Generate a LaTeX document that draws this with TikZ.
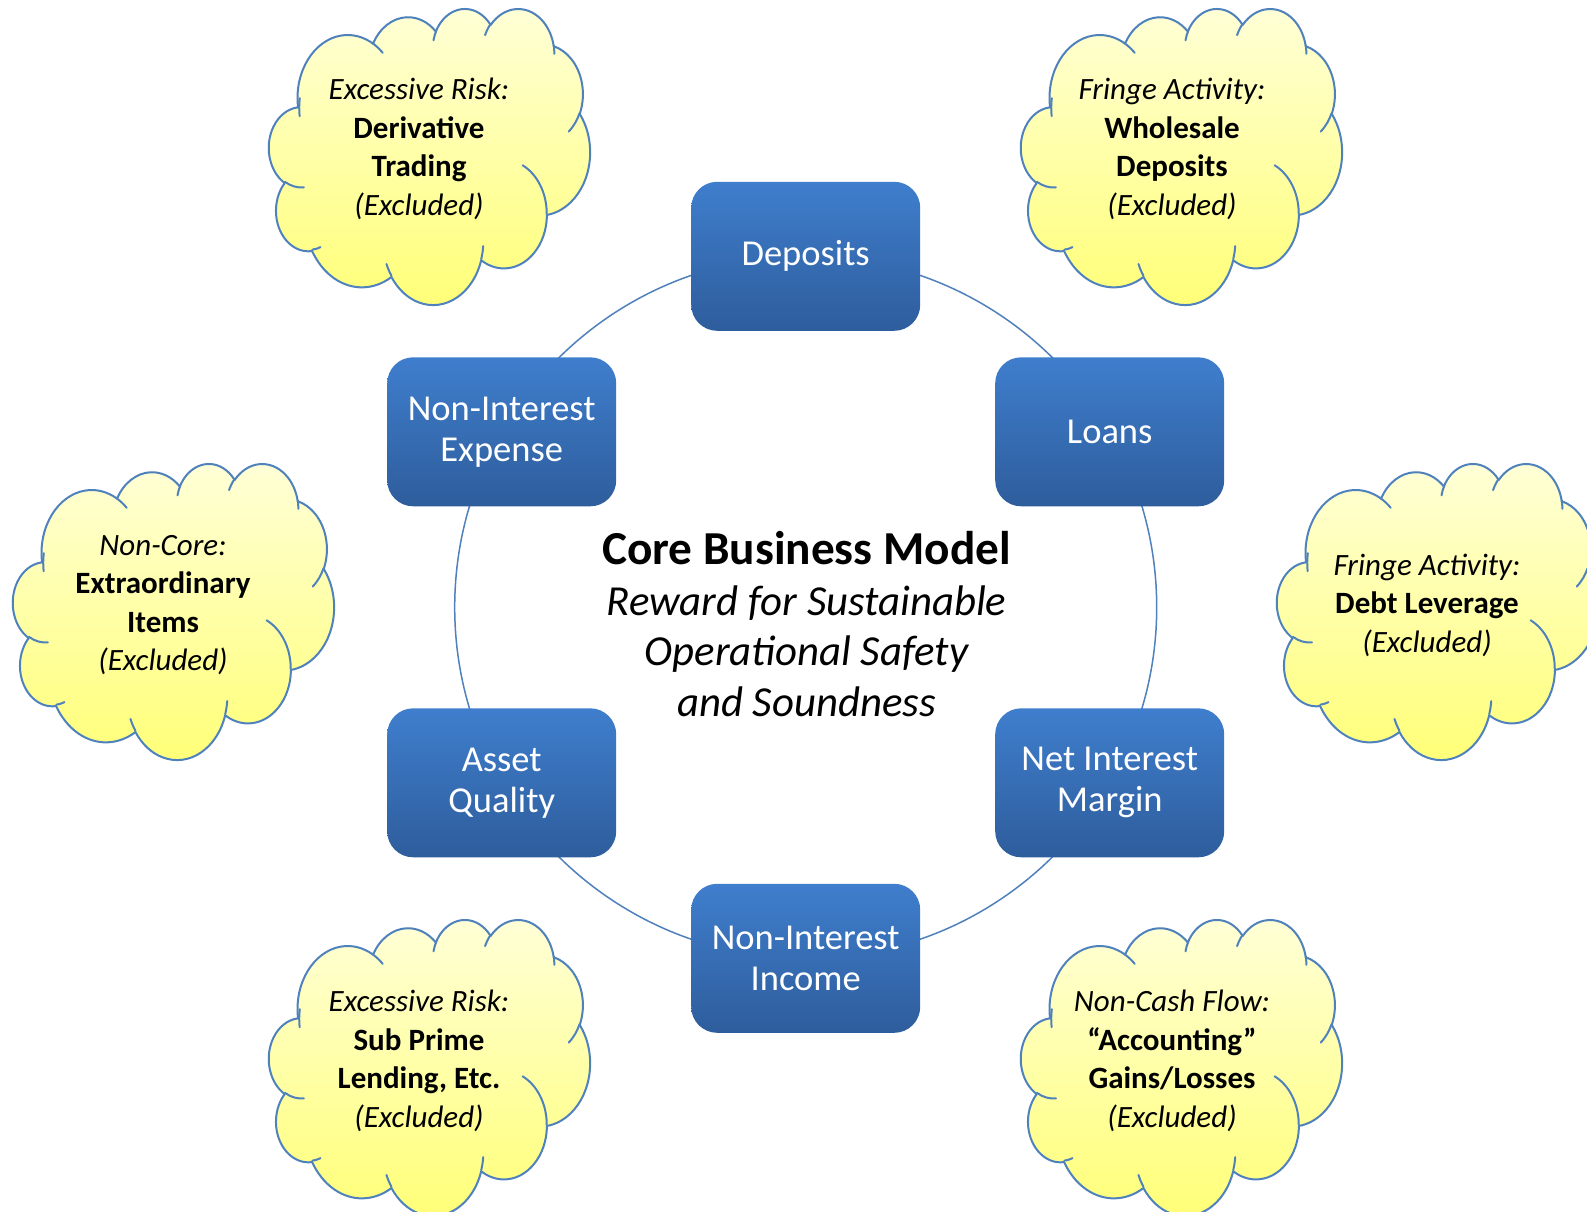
\documentclass[tikz,border=0pt]{standalone}
\usepackage{fontspec}
\setmainfont{Carlito}
\definecolor{boxtop}{RGB}{63,126,205}
\definecolor{boxbot}{RGB}{46,93,156}
\definecolor{ringblue}{RGB}{79,129,189}
\definecolor{cloudtop}{RGB}{255,255,216}
\definecolor{cloudbot}{RGB}{255,255,118}
% elliptical arc in the Office "arcTo" convention (radii, start angle, sweep),
% drawn in a y-up local frame
\newcommand\oarc[4]{%
  \pgfextra{%
    \pgfmathparse{atan2(-(#1)*sin(#3),(#2)*cos(#3))}\xdef\oA{\pgfmathresult}%
    \pgfmathparse{atan2(-(#1)*sin(#3+#4),(#2)*cos(#3+#4))}\xdef\oB{\pgfmathresult}%
    \pgfmathparse{mod(\oB-\oA+720,360)-360}\xdef\oD{\pgfmathresult}%
  }%
  arc[start angle=\oA, delta angle=\oD, x radius=#1, y radius=#2]}
% cloud: #1 = left, #2 = top (picture coordinates, y downward)
\newcommand\officecloud[2]{%
  \begin{scope}[shift={(#1,-#2-296)}, xscale=321/432, yscale=296/432]
    \draw[cloudline, top color=cloudtop, bottom color=cloudbot]
      (39.00,288.30)
      \oarc{67.53}{91.90}{-190.4875}{123.7805}
      \oarc{53.33}{72.67}{-144.1024}{89.9452}
      \oarc{43.65}{59.45}{-145.8079}{99.7230}
      \oarc{48.57}{65.95}{-130.9861}{117.2417}
      \oarc{53.33}{72.73}{-78.7089}{109.0269}
      \oarc{67.75}{92.20}{-46.2673}{130.2690}
      \oarc{57.85}{78.67}{0.6250}{114.0333}
      \oarc{67.52}{92.15}{22.4516}{115.1726}
      \oarc{77.20}{105.43}{66.2426}{75.7110}
      \oarc{43.60}{59.18}{-274.9421}{146.7356}
      \oarc{43.45}{59.45}{-246.8285}{152.5189}
      -- cycle;
    \draw[cloudline] (46.93,170.23) \oarc{43.45}{59.45}{86.7420}{26.4295};
    \draw[cloudline] (69.28,83.01) \oarc{43.60}{59.18}{73.6105}{11.4475};
    \draw[cloudline] (164.78,41.10) \oarc{67.52}{92.15}{137.6242}{14.0811};
    \draw[cloudline] (288.27,84.49) \oarc{67.52}{92.15}{6.4533}{15.9984};
    \draw[cloudline] (341.29,202.46) \oarc{57.85}{78.67}{-70.2924}{70.9174};
    \draw[cloudline] (417.98,278.46) \oarc{53.33}{72.73}{30.3180}{27.7515};
    \draw[cloudline] (383.24,377.74) \oarc{48.57}{65.95}{-13.7443}{14.8589};
    \draw[cloudline] (290.78,392.48) \oarc{48.57}{65.95}{-149.1815}{18.1954};
    \draw[cloudline] (221.41,384.80) \oarc{43.65}{59.45}{-163.4943}{17.6864};
    \draw[cloudline] (140.00,380.08) \oarc{67.53}{91.90}{-66.7070}{12.3194};
    \draw[cloudline] (41.27,274.11) \oarc{67.53}{91.90}{-190.4875}{22.2326};
  \end{scope}}
\begin{document}
\begin{tikzpicture}[x=1pt,y=1pt,
  corebox/.style={rectangle, rounded corners=26pt, minimum width=229pt, minimum height=149pt,
    top color=boxtop, bottom color=boxbot, draw=none, text=white,
    font=\fontsize{36.5}{41}\selectfont, align=center, inner sep=0pt},
  cloudline/.style={draw=ringblue, line width=2pt, line join=round, line cap=round},
  cloudtext/.style={align=center, font=\fontsize{31}{38.5}\selectfont, inner sep=0pt},
  ring/.style={draw=ringblue, line width=1.5pt}]
\fill[white] (0,0) rectangle (1587,-1212);
\useasboundingbox (0,0) rectangle (1587,-1212);
\clip (0,0) rectangle (1587,-1212);

% ring
\coordinate (ctr) at (805.7,-607.3);
\draw[ring] (ctr) circle (351pt);

% boxes
\node[corebox] (dep) at (805.7,-256.3) {Deposits};
\node[corebox] (loans) at (1109.7,-431.8) {Loans};
\node[corebox] (nim) at (1109.7,-782.8) {Net Interest\\Margin};
\node[corebox] (nii) at (805.7,-958.3) {Non-Interest\\Income};
\node[corebox] (aq) at (501.7,-782.8) {Asset\\Quality};
\node[corebox] (nie) at (501.7,-431.8) {Non-Interest\\Expense};

% center text
\node[align=center, inner sep=0pt, font=\fontsize{42.8}{50.5}\selectfont\itshape] (core) at (806.5,-624)
  {{\fontsize{47.3}{53}\selectfont\upshape\bfseries Core Business Model}\\
   Reward for Sustainable\\ Operational Safety\\ and Soundness};

% clouds
\officecloud{269}{8}
\node[cloudtext] (t1) at (419,-149) {\textit{Excessive Risk:}\\\textbf{Derivative}\\\textbf{Trading}\\\textit{(Excluded)}};

\officecloud{1021}{8}
\node[cloudtext] (t2) at (1172,-149) {\textit{Fringe Activity:}\\\textbf{Wholesale}\\\textbf{Deposits}\\\textit{(Excluded)}};

\officecloud{13}{463}
\node[cloudtext] (t3) at (163,-605) {\textit{Non-Core:}\\\textbf{Extraordinary}\\\textbf{Items}\\\textit{(Excluded)}};

\officecloud{1277}{463}
\node[cloudtext] (t4) at (1427,-605) {\textit{Fringe Activity:}\\\textbf{Debt Leverage}\\\textit{(Excluded)}};

\officecloud{269}{919}
\node[cloudtext] (t5) at (419,-1061) {\textit{Excessive Risk:}\\\textbf{Sub Prime}\\\textbf{Lending, Etc.}\\\textit{(Excluded)}};

\officecloud{1021}{919}
\node[cloudtext] (t6) at (1172,-1061) {\textit{Non-Cash Flow:}\\\textbf{“Accounting”}\\\textbf{Gains/Losses}\\\textit{(Excluded)}};
\end{tikzpicture}
\end{document}
